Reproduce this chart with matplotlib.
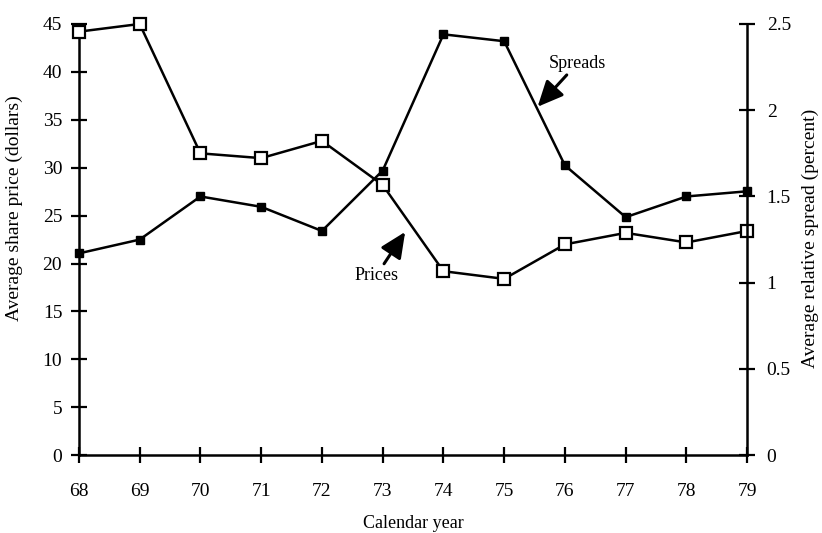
import numpy as np
import matplotlib.pyplot as plt

plt.rcParams['font.family'] = ['Liberation Serif', 'DejaVu Serif']

years = [68, 69, 70, 71, 72, 73, 74, 75, 76, 77, 78, 79]
prices = [44.2, 45.0, 31.5, 31.0, 32.8, 28.2, 19.2, 18.4, 22.0, 23.2, 22.2, 23.4]
spreads = [1.17, 1.25, 1.50, 1.44, 1.30, 1.65, 2.44, 2.40, 1.68, 1.38, 1.50, 1.53]

fig = plt.figure(figsize=(8.22, 5.33), dpi=100)
ax = fig.add_axes([0.096, 0.146, 0.813, 0.809])
ax2 = ax.twinx()

ax.plot(years, prices, color='black', lw=1.8, marker='s', ms=9,
        mfc='white', mec='black', mew=1.6, clip_on=False, zorder=3)
ax2.plot(years, spreads, color='black', lw=1.8, marker='s', ms=6,
         mfc='black', mec='black', clip_on=False, zorder=3)

ax.set_xlim(68, 79)
ax.set_ylim(0, 45)
ax2.set_ylim(0, 2.5)
ax.set_xticks(years)
ax.set_yticks(np.arange(0, 46, 5))
ax2.set_yticks([0, 0.5, 1, 1.5, 2, 2.5])
ax2.set_yticklabels(['0', '0.5', '1', '1.5', '2', '2.5'])

for a in (ax, ax2):
    a.spines['top'].set_visible(False)
    for s in a.spines.values():
        s.set_linewidth(1.8)
ax.spines['right'].set_visible(False)
ax2.spines['left'].set_visible(False)
ax2.spines['bottom'].set_visible(False)

ax.tick_params(axis='both', direction='inout', length=12, width=1.6,
               labelsize=14)
ax.tick_params(axis='x', pad=14)
ax.tick_params(axis='y', pad=6)
ax2.tick_params(axis='y', direction='inout', length=12, width=1.6,
                labelsize=14, pad=8)

ax.set_xlabel('Calendar year', fontsize=13, va='center')
ax.xaxis.set_label_coords(0.5, -0.158)
ax.set_ylabel('Average share price (dollars)', fontsize=14, va='center')
ax.yaxis.set_label_coords(-0.096, 0.573)
ax2.set_ylabel('Average relative spread (percent)', fontsize=14,
               rotation=90, va='center')
ax2.yaxis.set_label_coords(1.094, 0.503)

arrow = dict(arrowstyle='-|>,head_length=1.2,head_width=0.55',
             color='black', lw=2.2, shrinkA=0, shrinkB=0)
ax2.annotate('Spreads', xy=(75.55, 2.02), xytext=(76.2, 2.27),
             fontsize=13, ha='center', va='center', arrowprops=arrow)
ax.annotate('Prices', xy=(73.37, 23.3), xytext=(72.9, 18.8),
            fontsize=13, ha='center', va='center', arrowprops=arrow)

fig.savefig('out.png', dpi=100)
